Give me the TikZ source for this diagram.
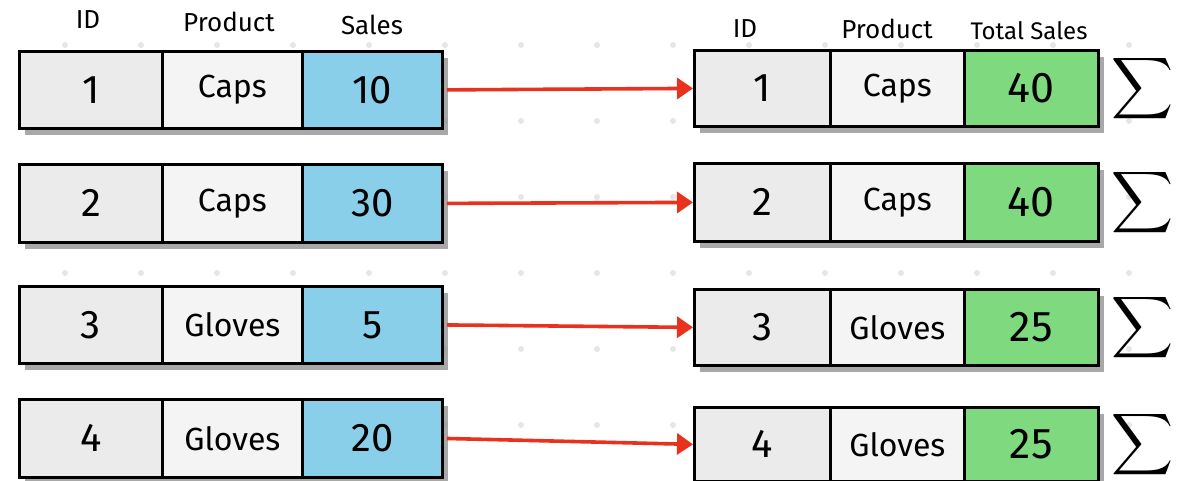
\documentclass[tikz,border=0pt]{standalone}
\usepackage{fontspec}
\setmainfont{Fira Sans}
\usetikzlibrary{arrows.meta}
\definecolor{cellgray}{HTML}{EBEBEB}
\definecolor{cellpale}{HTML}{F4F4F4}
\definecolor{salesblue}{HTML}{8ACFEA}
\definecolor{sumgreen}{HTML}{7FDA7F}
\definecolor{flowred}{HTML}{E8321E}
\definecolor{shade}{HTML}{8C8C8C}
\definecolor{griddot}{HTML}{E6E6E6}
\begin{document}
\begin{tikzpicture}[x=1pt,y=-1pt,
  cell/.style={draw=black, line width=2.8pt, anchor=north west, inner sep=0pt},
  numtext/.style={font=\fontsize{40}{40}\selectfont},
  totaltext/.style={font=\fontsize{43}{43}\selectfont},
  prodtext/.style={font=\fontsize{32}{32}\selectfont},
  head/.style={font=\fontsize{26}{26}\selectfont},
  headsmall/.style={font=\fontsize{24}{24}\selectfont},
  flow/.style={draw=flowred, line width=3.6pt, -{Triangle[length=16pt,width=21pt]}, shorten <=3pt},
  sigma/.style={inner sep=0pt},
  rowshade/.style={fill=shade, fill opacity=0.75}
]
\useasboundingbox (0,0) rectangle (1186,481);
\fill[white] (0,0) rectangle (1186,481);

% faint dot grid in the background
\foreach \gx in {0,...,14}
  \foreach \gy in {0,...,5}
    \fill[griddot] (65+76*\gx, 45+76*\gy) circle (3pt);

% column headings
\node[head] (hLid) at (88,20) {ID};
\node[head] (hLprod) at (229,22) {Product};
\node[head] (hLval) at (372,25) {Sales};
\node[head] (hRid) at (745,29) {ID};
\node[head] (hRprod) at (887,29) {Product};
\node[headsmall] (hRval) at (1029,31) {Total Sales};

% rows: index / left top / left bottom / right top / right bottom / id / product / sales / total
\foreach \r/\lt/\lb/\rt/\rb/\id/\prod/\val/\tot in {
    1/50/127/49/125/1/Caps/10/40,
    2/163/241/162/240/2/Caps/30/40,
    3/285/362/288/364/3/Gloves/5/25,
    4/398/476/406/480/4/Gloves/20/25}{
  % drop shadows
  \fill[rowshade] (25,\lt+8) rectangle (448,\lb+8);
  \fill[rowshade] (700,\rt+8) rectangle (1104,\rb+8);
  % source table row
  \node[cell, fill=cellgray, minimum width=143pt, minimum height={(\lb-\lt)*1pt}] (L\r id) at (18,\lt) {};
  \node[cell, fill=cellpale, minimum width=140pt, minimum height={(\lb-\lt)*1pt}] (L\r prod) at (161,\lt) {};
  \node[cell, fill=salesblue, minimum width=140pt, minimum height={(\lb-\lt)*1pt}] (L\r val) at (301,\lt) {};
  \node[numtext] (L\r idt) at (L\r id) {\id};
  \node[prodtext] (L\r prodt) at (L\r prod) {\prod};
  \node[numtext] (L\r valt) at (L\r val) {\val};
  % grouped table row
  \node[cell, fill=cellgray, minimum width=136pt, minimum height={(\rb-\rt)*1pt}] (R\r id) at (693,\rt) {};
  \node[cell, fill=cellpale, minimum width=134pt, minimum height={(\rb-\rt)*1pt}] (R\r prod) at (829,\rt) {};
  \node[cell, fill=sumgreen, minimum width=134pt, minimum height={(\rb-\rt)*1pt}] (R\r val) at (963,\rt) {};
  \node[numtext] (R\r idt) at (R\r id) {\id};
  \node[prodtext] (R\r prodt) at (R\r prod) {\prod};
  \node[totaltext] (R\r valt) at (R\r val) {\tot};
  % summation mark
  \node[sigma, anchor=west] (S\r) at ([xshift=11pt]R\r val.east) {\scalebox{4.3}{$\displaystyle\sum$}};
  % mapping arrow
  \draw[flow] (L\r val.east) -- (R\r id.west);
}
\end{tikzpicture}
\end{document}
